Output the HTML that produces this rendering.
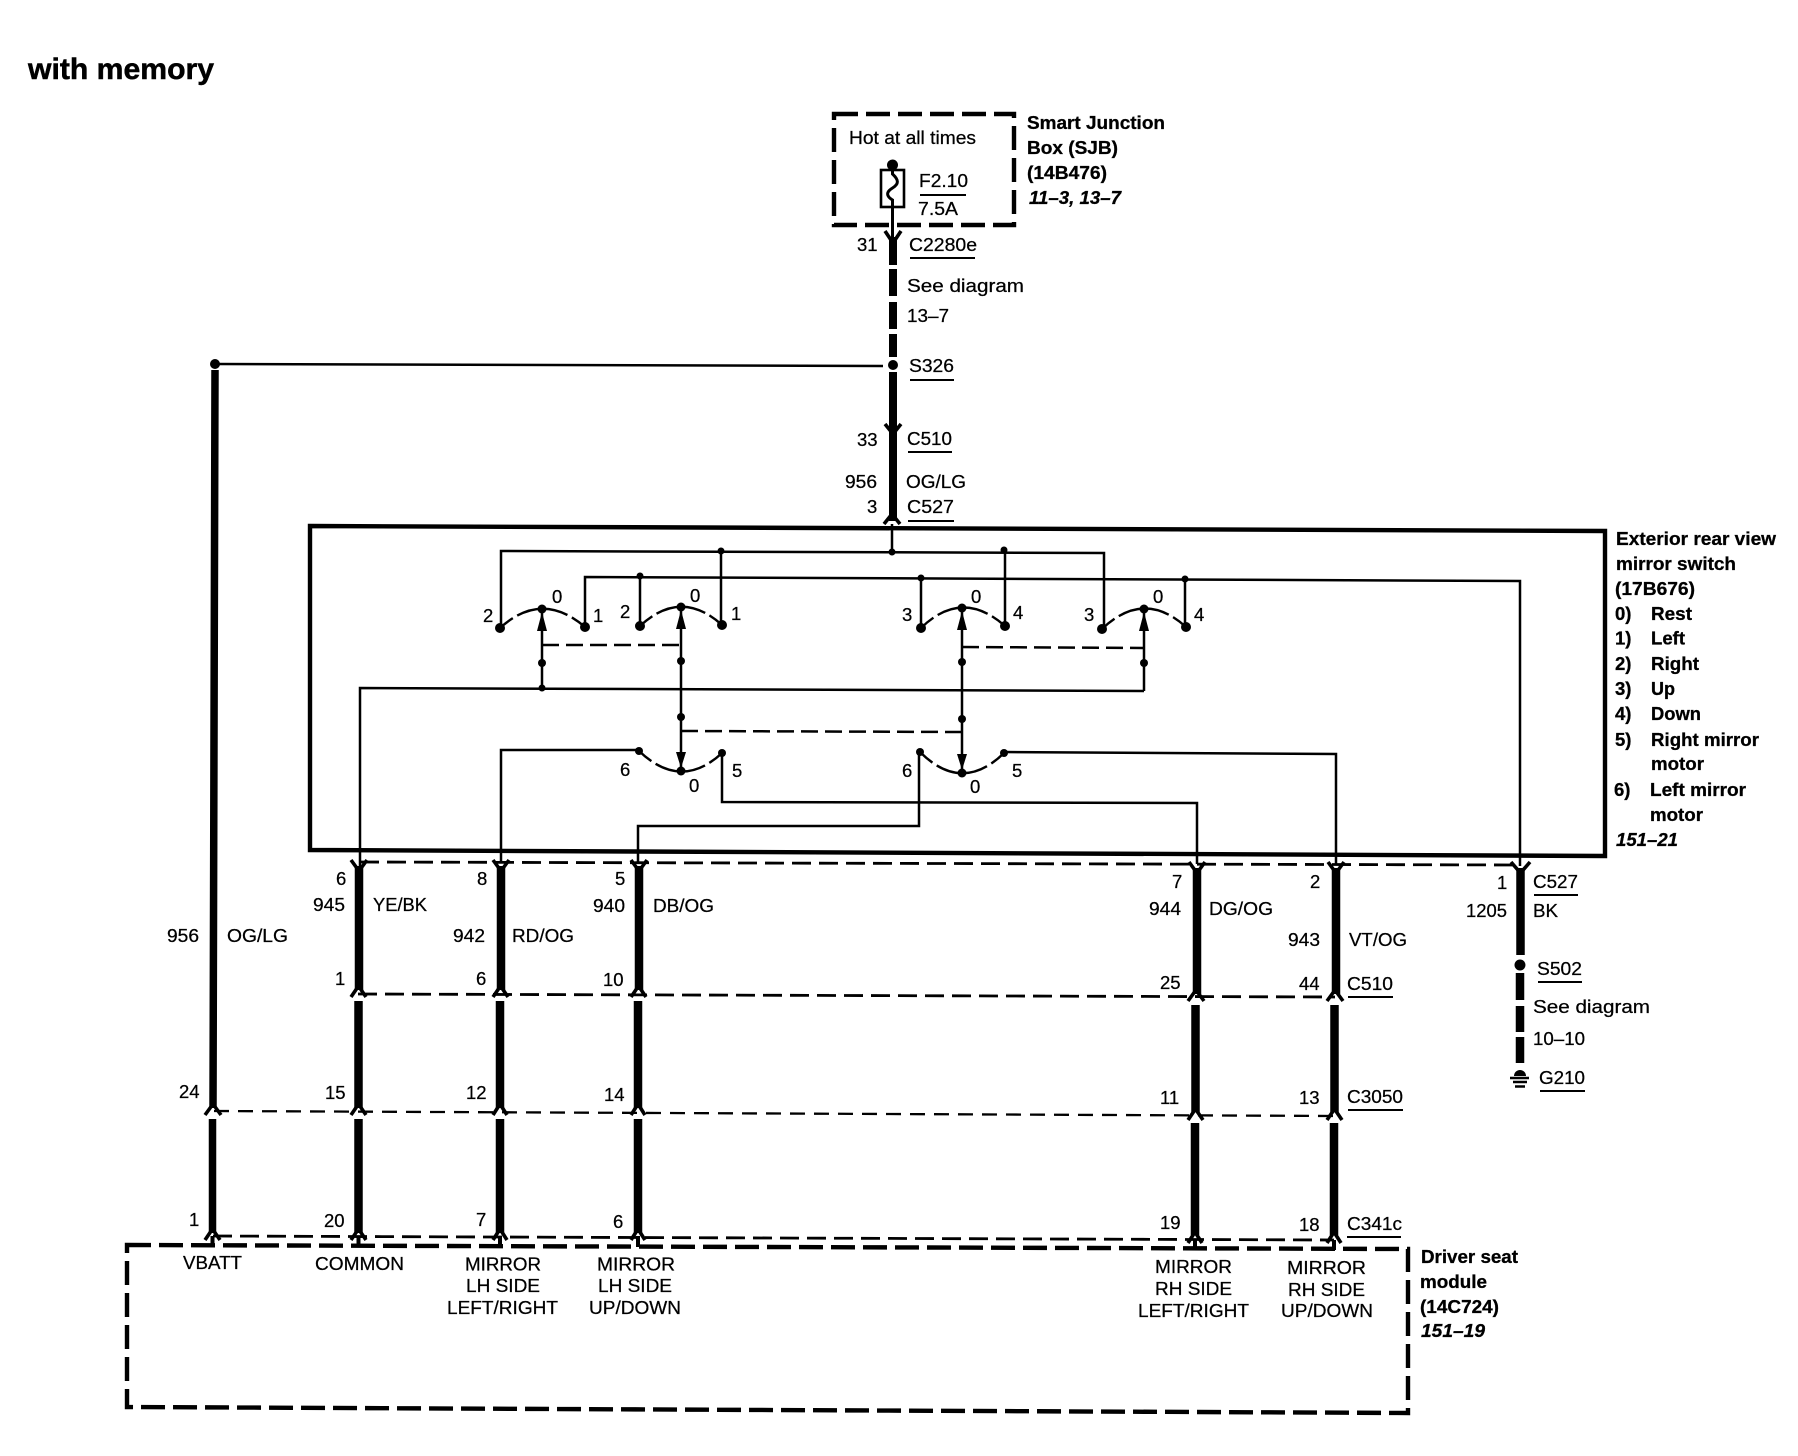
<!DOCTYPE html>
<html><head><meta charset="utf-8"><title>with memory</title>
<style>
html,body{margin:0;padding:0;background:#fff}
svg{display:block}
text{font-family:"Liberation Sans",sans-serif;font-size:18.5px;fill:#000;stroke:#000;stroke-width:.25}
.b text{font-weight:bold;stroke-width:.3}
text.i{font-weight:bold;font-style:italic}
.thin{fill:none;stroke:#000;stroke-width:2.5}
.w{fill:none;stroke:#000;stroke-width:8.5}
.u{fill:none;stroke:#000;stroke-width:2}
.arc{fill:none;stroke:#000;stroke-width:2.4;stroke-dasharray:16 5 52 5 16}
.ch{fill:none;stroke:#000;stroke-width:3.6}
.dash{fill:none;stroke:#000;stroke-width:2.8;stroke-dasharray:19 8}
.dash2{fill:none;stroke:#000;stroke-width:2.3;stroke-dasharray:15 9}
.box{fill:none;stroke:#000;stroke-width:4.4;stroke-dasharray:24 8}
</style></head><body>
<svg xmlns="http://www.w3.org/2000/svg" width="1798" height="1456" viewBox="0 0 1798 1456">
<rect width="1798" height="1456" fill="#fff"/>

<!-- SJB -->
<path class="box" d="M834,114 H1014 V225 H834 Z"/>
<rect x="881" y="170" width="23" height="37" fill="none" stroke="#000" stroke-width="2.6"/>
<path class="thin" d="M892.500,165 V174 C899,180 899,184 892.500,188 C886,192 886,196 892.500,200 V238" style="stroke-width:3"/>
<circle cx="892.500" cy="165" r="5.500"/>
<path class="u" d="M920,195 H966"/>

<!-- main feed -->
<path class="w" d="M893,237 V265 M893,269 V296 M893,302 V329 M893,334 V357 M893,372 V521" style="stroke-width:8"/>
<circle cx="893" cy="365" r="5"/>
<path class="ch" d="M885,231 L893,243 L901,231 M885,424 L893,434 L901,424 M884,524 L892,514 L900,524"/>
<path class="thin" d="M216,364 L883,366"/>
<circle cx="215" cy="364" r="5"/>

<!-- switch enclosure -->
<path d="M310,526 L1605,531 V856 L310,850 Z" fill="none" stroke="#000" stroke-width="4.400"/>

<!-- internal rails -->
<path class="thin" d="M892,524 V552 M501,628 V551 L1104,553 V629"/>
<path class="thin" d="M585,627 V577 L1520,581 V866"/>
<path class="thin" d="M640,576 V626 M721,551 V625 M921,578 V628 M1005,550 V626 M1185,579 V627"/>

<!-- arcs -->
<path class="arc" pathLength="94" d="M500,628 Q542,590 585,627"/>
<path class="arc" pathLength="94" d="M640,626 Q681,588 722,625"/>
<path class="arc" pathLength="94" d="M921,628 Q962,588 1005,626"/>
<path class="arc" pathLength="94" d="M1102,629 Q1144,589 1186,627"/>
<path class="arc" pathLength="94" d="M639,751 Q681,791 722,753"/>
<path class="arc" pathLength="94" d="M920,752 Q962,794 1004,753"/>

<!-- shafts -->
<path class="thin" d="M542,609 V688 M681,607 V771 M962,608 V773 M1144,609 V691"/>
<path class="thin" d="M360,866 V688 L1144,691"/>
<path class="dash" style="stroke-width:2.5;stroke-dasharray:17 7" d="M542,645 H681 M962,647 L1144,648 M681,731 L962,732"/>

<!-- switch output wires -->
<path class="thin" d="M639,750 H501 V862"/>
<path class="thin" d="M722,753 V802 L1197,803 V864"/>
<path class="thin" d="M919,752 V826 H638 V862"/>
<path class="thin" d="M1004,752 L1336,754 V864"/>

<!-- contacts & junction dots -->
<g>
<circle cx="500" cy="628" r="5"/><circle cx="585" cy="627" r="5"/><circle cx="640" cy="626" r="5"/><circle cx="722" cy="625" r="5"/>
<circle cx="921" cy="628" r="5"/><circle cx="1005" cy="626" r="5"/><circle cx="1102" cy="629" r="5"/><circle cx="1186" cy="627" r="5"/>
<circle cx="542" cy="609" r="4.500"/><circle cx="681" cy="607" r="4.500"/><circle cx="962" cy="608" r="4.500"/><circle cx="1144" cy="609" r="4.500"/>
<circle cx="639" cy="751" r="4"/><circle cx="722" cy="753" r="4"/><circle cx="920" cy="752" r="4"/><circle cx="1004" cy="753" r="4"/>
<circle cx="681" cy="771" r="4.500"/><circle cx="962" cy="773" r="4.500"/>
<circle cx="721" cy="551" r="3.500"/><circle cx="892" cy="552" r="3.500"/><circle cx="1004" cy="550" r="3.500"/>
<circle cx="640" cy="576" r="3.500"/><circle cx="921" cy="578" r="3.500"/><circle cx="1185" cy="579" r="3.500"/>
<circle cx="542" cy="663" r="4"/><circle cx="681" cy="661" r="4"/><circle cx="962" cy="662" r="4"/><circle cx="1144" cy="663" r="4"/>
<circle cx="542" cy="688" r="3.500"/><circle cx="681" cy="717" r="4"/><circle cx="962" cy="719" r="4"/>
<polygon points="542,612 537,631 547,631"/><polygon points="681,610 676,629 686,629"/><polygon points="962,611 957,630 967,630"/><polygon points="1144,612 1139,631 1149,631"/>
<polygon points="681,768 676,752 686,752"/><polygon points="962,770 957,754 967,754"/>
</g>

<!-- connector rows -->
<path class="dash" d="M360,862 L1520,865"/>
<path class="dash" d="M358,994 L1335,997"/>
<path class="dash2" d="M214,1111 L1335,1116"/>
<path class="dash" d="M213,1236 L1334,1240"/>

<!-- thick vertical wires -->
<path class="w" style="stroke-width:7.5" d="M215,370 L213,1108 M212.500,1119 V1233"/>
<path class="w" d="M359,866 V990 M358.500,1001 V1108 M358.500,1119 V1233"/>
<path class="w" d="M501,866 V990 M500,1001 V1108 M500,1119 V1233"/>
<path class="w" d="M639,866 V990 M638,1001 V1108 M638,1119 V1233"/>
<path class="w" d="M1197,868 V994 M1195.500,1005 V1112 M1195,1123 V1235"/>
<path class="w" d="M1336,868 V994 M1334.500,1005 V1112 M1334,1123 V1235"/>
<path class="w" d="M1520.500,868 V955 M1520,973 V1000 M1520,1006 V1032 M1520,1037 V1063"/>
<circle cx="1520" cy="965" r="5.500"/>

<!-- chevrons -->
<path class="ch" d="M351,860 L359,871 L367,860 M493,860 L501,871 L509,860 M631,860 L639,871 L647,860 M1189,862 L1197,873 L1205,862 M1328,862 L1336,873 L1344,862 M1511,862 L1520.500,873 L1530,862"/>
<path class="ch" d="M351,997 L358.500,986 L366,997 M493,997 L500.500,986 L508,997 M631,997 L638.500,986 L646,997 M1188,1001 L1196,990 L1204,1001 M1327,1001 L1335,990 L1343,1001"/>
<path class="ch" d="M205,1115 L213,1104 L221,1115 M351,1115 L358.500,1104 L366,1115 M493,1115 L500,1104 L507,1115 M631,1115 L638,1104 L645,1115 M1188,1120 L1195.500,1109 L1203,1120 M1327,1120 L1334.500,1109 L1342,1120"/>
<path class="ch" d="M205,1240 L212.500,1229 L220,1240 M351,1240 L358.500,1229 L366,1240 M493,1240 L500,1229 L507,1240 M631,1240 L638,1229 L645,1240 M1188,1243 L1195,1232 L1202,1243 M1327,1243 L1334,1232 L1341,1243"/>
<path class="thin" style="stroke-width:4" d="M212.500,1236 V1247 M358.500,1236 V1247 M500,1236 V1247 M638,1236 V1247 M1195,1240 V1250 M1334,1240 V1250"/>

<!-- ground -->
<path d="M1510,1078 H1529" stroke="#000" stroke-width="2.500"/>
<path d="M1513,1082 H1527" stroke="#000" stroke-width="2.500"/>
<path d="M1515,1086.500 H1525" stroke="#000" stroke-width="2.500"/>
<path d="M1514,1076 A6,6 0 0 1 1526,1076 Z"/>

<!-- module box -->
<path class="box" d="M127,1245 L1408,1249 V1413 L127,1407 Z"/>

<!-- underlines -->
<path class="u" d="M910,258 H975 M910,380 H954 M908,452 H952 M908,521 H954 M1534,895 H1578 M1348,997 H1393 M1348,1110 H1403 M1347,1237 H1401 M1538,982 H1582 M1540,1091 H1585"/>

<!-- title -->
<text x="28" y="79" style="font-size:30px;font-weight:bold;stroke-width:.5" textLength="186" lengthAdjust="spacingAndGlyphs">with memory</text>

<!-- bold labels -->
<g class="b">
<text x="1027" y="129" textLength="138" lengthAdjust="spacingAndGlyphs">Smart Junction</text>
<text x="1027" y="154" textLength="91" lengthAdjust="spacingAndGlyphs">Box (SJB)</text>
<text x="1027" y="179" textLength="80" lengthAdjust="spacingAndGlyphs">(14B476)</text>
<text x="1029" y="204" class="i" textLength="92" lengthAdjust="spacingAndGlyphs">11–3, 13–7</text>

<text x="1616" y="545" textLength="160" lengthAdjust="spacingAndGlyphs">Exterior rear view</text>
<text x="1616" y="570" textLength="120" lengthAdjust="spacingAndGlyphs">mirror switch</text>
<text x="1615" y="595" textLength="80" lengthAdjust="spacingAndGlyphs">(17B676)</text>
<text x="1615" y="620">0)</text><text x="1651" y="620" textLength="41" lengthAdjust="spacingAndGlyphs">Rest</text>
<text x="1615" y="644.500">1)</text><text x="1651" y="644.500" textLength="34" lengthAdjust="spacingAndGlyphs">Left</text>
<text x="1615" y="670">2)</text><text x="1651" y="670" textLength="48" lengthAdjust="spacingAndGlyphs">Right</text>
<text x="1615" y="695">3)</text><text x="1651" y="695" textLength="24" lengthAdjust="spacingAndGlyphs">Up</text>
<text x="1615" y="720">4)</text><text x="1651" y="720" textLength="50" lengthAdjust="spacingAndGlyphs">Down</text>
<text x="1615" y="746">5)</text><text x="1651" y="746" textLength="108" lengthAdjust="spacingAndGlyphs">Right mirror</text>
<text x="1651" y="770" textLength="53" lengthAdjust="spacingAndGlyphs">motor</text>
<text x="1614" y="796">6)</text><text x="1650" y="796" textLength="96" lengthAdjust="spacingAndGlyphs">Left mirror</text>
<text x="1650" y="821" textLength="53" lengthAdjust="spacingAndGlyphs">motor</text>
<text x="1616" y="846" class="i" textLength="62" lengthAdjust="spacingAndGlyphs">151–21</text>

<text x="1421" y="1263" textLength="97" lengthAdjust="spacingAndGlyphs">Driver seat</text>
<text x="1420" y="1288" textLength="67" lengthAdjust="spacingAndGlyphs">module</text>
<text x="1420" y="1313" textLength="79" lengthAdjust="spacingAndGlyphs">(14C724)</text>
<text x="1421" y="1337" class="i" textLength="64" lengthAdjust="spacingAndGlyphs">151–19</text>
</g>

<!-- regular labels -->
<g>
<text x="849" y="144" textLength="127" lengthAdjust="spacingAndGlyphs">Hot at all times</text>
<text x="919" y="187" textLength="49" lengthAdjust="spacingAndGlyphs">F2.10</text>
<text x="918" y="215" textLength="40" lengthAdjust="spacingAndGlyphs">7.5A</text>
<text x="857" y="251">31</text>
<text x="909" y="251" textLength="68" lengthAdjust="spacingAndGlyphs">C2280e</text>
<text x="907" y="292" textLength="117" lengthAdjust="spacingAndGlyphs">See diagram</text>
<text x="907" y="322" textLength="42" lengthAdjust="spacingAndGlyphs">13–7</text>
<text x="909" y="372" textLength="45" lengthAdjust="spacingAndGlyphs">S326</text>
<text x="857" y="446">33</text>
<text x="907" y="445" textLength="45" lengthAdjust="spacingAndGlyphs">C510</text>
<text x="845" y="488" textLength="32" lengthAdjust="spacingAndGlyphs">956</text>
<text x="906" y="488" textLength="60" lengthAdjust="spacingAndGlyphs">OG/LG</text>
<text x="867" y="513">3</text>
<text x="907" y="513" textLength="47" lengthAdjust="spacingAndGlyphs">C527</text>

<!-- switch digits -->
<text x="483" y="622">2</text><text x="552" y="603">0</text><text x="593" y="622">1</text>
<text x="620" y="618">2</text><text x="690" y="602">0</text><text x="731" y="620">1</text>
<text x="902" y="621">3</text><text x="971" y="603">0</text><text x="1013" y="619">4</text>
<text x="1084" y="621">3</text><text x="1153" y="603">0</text><text x="1194" y="621">4</text>
<text x="620" y="776">6</text><text x="689" y="792">0</text><text x="732" y="777">5</text>
<text x="902" y="777">6</text><text x="970" y="793">0</text><text x="1012" y="777">5</text>

<!-- wire labels -->
<text x="336" y="885">6</text>
<text x="313" y="911" textLength="32" lengthAdjust="spacingAndGlyphs">945</text>
<text x="373" y="911" textLength="54" lengthAdjust="spacingAndGlyphs">YE/BK</text>
<text x="167" y="942" textLength="32" lengthAdjust="spacingAndGlyphs">956</text>
<text x="227" y="942" textLength="61" lengthAdjust="spacingAndGlyphs">OG/LG</text>
<text x="477" y="885">8</text>
<text x="453" y="942" textLength="32" lengthAdjust="spacingAndGlyphs">942</text>
<text x="512" y="942" textLength="62" lengthAdjust="spacingAndGlyphs">RD/OG</text>
<text x="615" y="885">5</text>
<text x="593" y="912" textLength="32" lengthAdjust="spacingAndGlyphs">940</text>
<text x="653" y="912" textLength="61" lengthAdjust="spacingAndGlyphs">DB/OG</text>
<text x="335" y="985">1</text>
<text x="476" y="985">6</text>
<text x="603" y="986">10</text>
<text x="179" y="1098">24</text>
<text x="325" y="1099">15</text>
<text x="466" y="1099">12</text>
<text x="604" y="1101">14</text>
<text x="189" y="1226">1</text>
<text x="324" y="1227">20</text>
<text x="476" y="1226">7</text>
<text x="613" y="1228">6</text>

<text x="1172" y="888">7</text>
<text x="1149" y="915" textLength="32" lengthAdjust="spacingAndGlyphs">944</text>
<text x="1209" y="915" textLength="64" lengthAdjust="spacingAndGlyphs">DG/OG</text>
<text x="1310" y="888">2</text>
<text x="1288" y="946" textLength="32" lengthAdjust="spacingAndGlyphs">943</text>
<text x="1349" y="946" textLength="58" lengthAdjust="spacingAndGlyphs">VT/OG</text>
<text x="1160" y="989">25</text>
<text x="1299" y="990">44</text>
<text x="1347" y="990" textLength="46" lengthAdjust="spacingAndGlyphs">C510</text>
<text x="1160" y="1104">11</text>
<text x="1299" y="1104">13</text>
<text x="1347" y="1103" textLength="56" lengthAdjust="spacingAndGlyphs">C3050</text>
<text x="1160" y="1229">19</text>
<text x="1299" y="1231">18</text>
<text x="1347" y="1230" textLength="55" lengthAdjust="spacingAndGlyphs">C341c</text>

<text x="1497" y="889">1</text>
<text x="1466" y="917" textLength="41" lengthAdjust="spacingAndGlyphs">1205</text>
<text x="1533" y="888" textLength="45" lengthAdjust="spacingAndGlyphs">C527</text>
<text x="1533" y="917" textLength="25" lengthAdjust="spacingAndGlyphs">BK</text>
<text x="1537" y="975" textLength="45" lengthAdjust="spacingAndGlyphs">S502</text>
<text x="1533" y="1013" textLength="117" lengthAdjust="spacingAndGlyphs">See diagram</text>
<text x="1533" y="1045" textLength="52" lengthAdjust="spacingAndGlyphs">10–10</text>
<text x="1539" y="1084" textLength="46" lengthAdjust="spacingAndGlyphs">G210</text>

<!-- module pins -->
<text x="183" y="1269" textLength="59" lengthAdjust="spacingAndGlyphs">VBATT</text>
<text x="315" y="1270" textLength="89" lengthAdjust="spacingAndGlyphs">COMMON</text>
<text x="465" y="1270.500" textLength="76" lengthAdjust="spacingAndGlyphs">MIRROR</text>
<text x="466" y="1292" textLength="74" lengthAdjust="spacingAndGlyphs">LH SIDE</text>
<text x="447" y="1314" textLength="111" lengthAdjust="spacingAndGlyphs">LEFT/RIGHT</text>
<text x="597" y="1270.500" textLength="78" lengthAdjust="spacingAndGlyphs">MIRROR</text>
<text x="598" y="1292" textLength="74" lengthAdjust="spacingAndGlyphs">LH SIDE</text>
<text x="589" y="1314" textLength="92" lengthAdjust="spacingAndGlyphs">UP/DOWN</text>
<text x="1155" y="1273" textLength="77" lengthAdjust="spacingAndGlyphs">MIRROR</text>
<text x="1155" y="1295" textLength="77" lengthAdjust="spacingAndGlyphs">RH SIDE</text>
<text x="1138" y="1317" textLength="111" lengthAdjust="spacingAndGlyphs">LEFT/RIGHT</text>
<text x="1287" y="1274" textLength="79" lengthAdjust="spacingAndGlyphs">MIRROR</text>
<text x="1288" y="1296" textLength="77" lengthAdjust="spacingAndGlyphs">RH SIDE</text>
<text x="1281" y="1317" textLength="92" lengthAdjust="spacingAndGlyphs">UP/DOWN</text>
</g>
</svg>
</body></html>
